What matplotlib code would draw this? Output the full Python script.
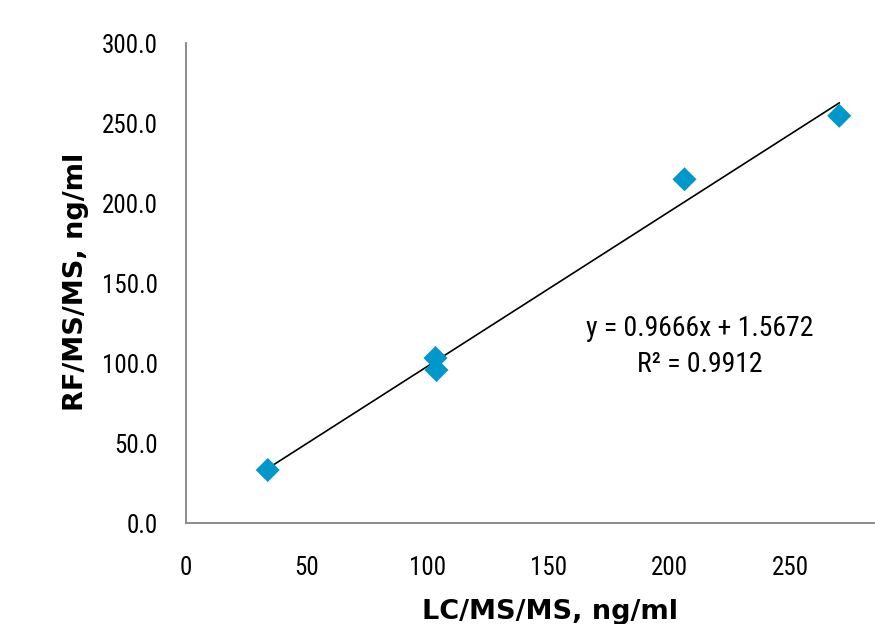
import matplotlib
matplotlib.use("Agg")
import matplotlib.pyplot as plt
from matplotlib import font_manager
import numpy as np

lc = [33.8, 103.2, 103.6, 206.2, 270.2]
rf = [33.3, 103.3, 95.8, 215.0, 254.7]
slope = 0.9666
intercept = 1.5672
eq_text = "y = 0.9666x + 1.5672\nR² = 0.9912"
xticks = [0, 50, 100, 150, 200, 250]
yticks = [0, 50, 100, 150, 200, 250, 300]

names = {f.name for f in font_manager.fontManager.ttflist}
pref = ['Roboto Condensed', 'Liberation Sans Narrow', 'Arial Narrow', 'IBM Plex Sans Condensed',
        'Open Sans Condensed']
fam = [n for n in pref if n in names][:1] + ['DejaVu Sans']
plt.rcParams['font.family'] = fam

W, H = 875, 624
fig = plt.figure(figsize=(W / 100, H / 100), dpi=100)
ax = fig.add_axes([186 / W, 100.7 / H, 1 - 186 / W, 480 / H])
ax.set_xlim(0, 285)
ax.set_ylim(0, 300)

xs = np.array([min(lc), max(lc)])
ax.plot(xs, slope * xs + intercept, color='black', lw=1.2, zorder=2)
ax.scatter(lc, rf, marker='D', s=150, color='#0097CA', edgecolors='none', zorder=3)

ax.set_xticks(xticks)
ax.set_yticks(yticks)
ax.set_yticklabels([f"{v:.1f}" for v in yticks])
ax.tick_params(length=0, labelsize=18, colors='black')
ax.tick_params(axis='x', pad=23.5)
ax.tick_params(axis='y', pad=20)
for s in ['top', 'right']:
    ax.spines[s].set_visible(False)
for s in ['left', 'bottom']:
    ax.spines[s].set_color('#8c8c8c')
    ax.spines[s].set_linewidth(1.4)

lab_font = dict(family=['DejaVu Sans'], fontsize=19.5, fontweight='bold')
fig.text(549.5 / W, 5 / H, "LC/MS/MS, ng/ml", ha='center', va='baseline', **lab_font)
fig.text(76 / W, 1 - 282 / H, "RF/MS/MS, ng/ml", ha='center', va='center', rotation=90,
         **lab_font)

ax.text(212.4, 110.5, eq_text, fontsize=20, ha='center', va='center', linespacing=1.42)

fig.savefig("out.png", dpi=100)
